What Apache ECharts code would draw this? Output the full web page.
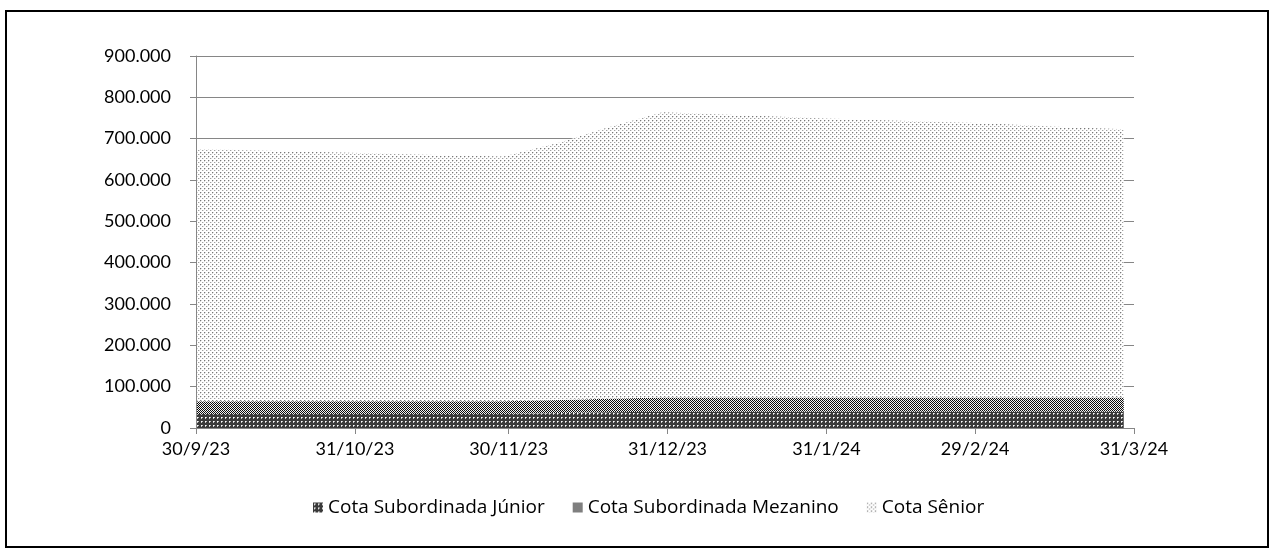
<!DOCTYPE html>
<html>
<head>
<meta charset="utf-8">
<script src="https://cdn.jsdelivr.net/npm/echarts@6/dist/echarts.min.js"></script>
<style>
html,body{margin:0;padding:0;background:#fff;}
#c{width:1275px;height:553px;}
</style>
</head>
<body>
<div id="c"></div>
<script>
// ---- data ----
const dates = ['2023-09-30','2023-10-14','2023-10-30','2023-11-14','2023-11-29','2023-12-10','2023-12-19','2023-12-30','2024-01-16','2024-01-31','2024-02-16','2024-03-02','2024-03-16','2024-03-29'];
const junior   = [34000,34000,34000,34000,34000,36000,38000,39500,39500,39500,39500,39500,39500,39500];
const mezanino = [31000,31000,31000,31000,31000,32000,33000,34500,34500,34500,34500,34500,34500,34500];
const senior   = [610000,606000,601000,596000,592000,623000,655000,690000,682000,675000,669000,663000,655000,649000];
const xTickDates = ['2023-09-30','2023-10-31','2023-11-30','2023-12-31','2024-01-31','2024-02-29','2024-03-31'];
const seriesNames = ['Cota Subordinada Júnior','Cota Subordinada Mezanino','Cota Sênior'];

function ts(s){const p=s.split('-').map(Number);return Date.UTC(p[0],p[1]-1,p[2]);}
function fmtLabel(v){const d=new Date(v);return d.getUTCDate()+'/'+(d.getUTCMonth()+1)+'/'+String(d.getUTCFullYear()).slice(2);}
function fmtNum(v){return String(Math.round(v)).replace(/\B(?=(\d{3})+(?!\d))/g,'.');}

function makeTile(size,bg,pixels){
  const c=document.createElement('canvas');c.width=size;c.height=size;
  const g=c.getContext('2d');g.fillStyle=bg;g.fillRect(0,0,size,size);
  pixels.forEach(p=>{g.fillStyle=p[2];g.fillRect(p[0],p[1],1,1);});
  return c;
}
const tiles=[
  makeTile(4,'#3a3a3a',[[1,1,'#ffffff'],[2,1,'#c0c0c0'],[1,2,'#c0c0c0']]),
  makeTile(2,'#f4f4f4',[[0,0,'#0a0a0a'],[1,1,'#0a0a0a']]),
  makeTile(4,'#ffffff',[[0,0,'#777777'],[1,0,'#d8d8d8'],[0,1,'#d8d8d8'],[2,2,'#a0a0a0'],[3,2,'#e0e0e0']])
];
function pat(i){return {image:tiles[i],repeat:'repeat'};}
const vals=[junior,mezanino,senior];

const font='Lato';
const xTicks=xTickDates.map(ts);
const axisGray='#868686';
const chart=echarts.init(document.getElementById('c'),null,{renderer:'canvas'});
chart.setOption({
  animation:false,
  backgroundColor:'#fff',
  textStyle:{fontFamily:font},
  grid:{left:196,top:56,width:938,height:372,containLabel:false},
  legend:{
    left:308,bottom:31,icon:'rect',itemWidth:10,itemHeight:10,itemGap:28,
    textStyle:{fontFamily:'Open Sans',fontSize:19,color:'#000'},
    data:seriesNames.map((n,i)=>({name:n,itemStyle:{color:pat(i)}}))
  },
  xAxis:[{
    type:'time',min:xTicks[0],max:xTicks[xTicks.length-1],
    axisLine:{show:false},axisTick:{show:false},axisLabel:{show:false},splitLine:{show:false}
  },{
    type:'value',min:xTicks[0],max:xTicks[xTicks.length-1],position:'bottom',z:10,
    axisLine:{show:true,onZero:false,lineStyle:{color:axisGray,width:1}},
    axisTick:{show:true,length:6,lineStyle:{color:axisGray},customValues:xTicks},
    axisLabel:{customValues:xTicks,formatter:fmtLabel,fontFamily:font,fontSize:18,color:'#000',margin:12,hideOverlap:false,showMinLabel:true,showMaxLabel:true},
    splitLine:{show:false}
  }],
  yAxis:[{
    type:'value',min:0,max:900000,interval:100000,
    axisLine:{show:false},axisTick:{show:false},
    axisLabel:{formatter:fmtNum,fontFamily:font,fontSize:18,color:'#000',margin:25},
    splitLine:{show:true,lineStyle:{color:axisGray,width:1}}
  },{
    type:'value',min:0,max:900000,interval:100000,position:'left',z:10,
    axisLine:{show:true,onZero:false,lineStyle:{color:axisGray,width:1}},
    axisTick:{show:true,length:6,lineStyle:{color:axisGray}},
    axisLabel:{show:false},splitLine:{show:false}
  }],
  series:seriesNames.map((n,i)=>({
    name:n,type:'line',stack:'total',symbol:'none',xAxisIndex:0,yAxisIndex:0,
    lineStyle:{width:0,opacity:0},
    itemStyle:{color:pat(i)},
    areaStyle:{color:pat(i),opacity:1},
    data:dates.map((d,j)=>[ts(d),vals[i][j]])
  })),
  graphic:[{type:'rect',shape:{x:6,y:11,width:1262,height:536},style:{fill:'none',stroke:'#000',lineWidth:2},z:100}]
});
</script>
</body>
</html>
